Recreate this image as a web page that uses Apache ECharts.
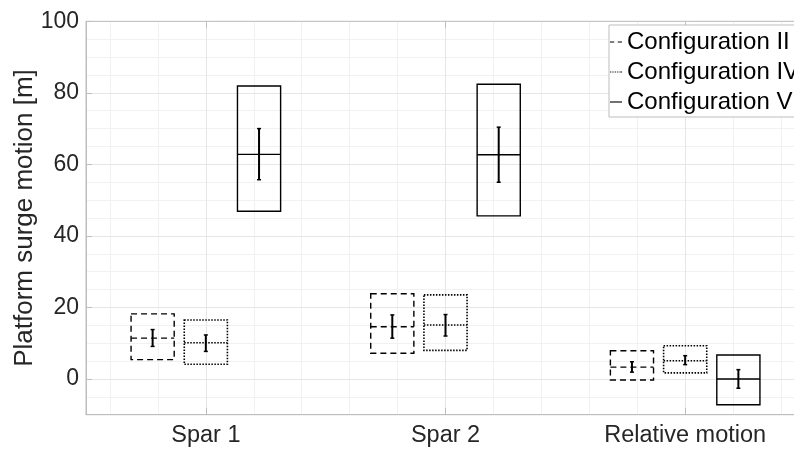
<!DOCTYPE html>
<html>
<head>
<meta charset="utf-8">
<script src="https://cdn.jsdelivr.net/npm/echarts@6/dist/echarts.min.js"></script>
<style>
html, body { margin: 0; padding: 0; background: #fff; }
#chart { width: 794px; height: 449px; }
</style>
</head>
<body>
<div id="chart"></div>
<script>
// ---- Data ----
const categories = ['Spar 1', 'Spar 2', 'Relative motion'];
const configNames = ['Configuration II', 'Configuration IV', 'Configuration V'];

// Configuration II (dashed)
const boxHighII = [18.2, 23.8, 7.9];
const boxLowII  = [5.4, 7.2, -0.3];
const meanII    = [11.4, 14.6, 3.3];
const errHighII = [13.8, 17.9, 4.8];
const errLowII  = [9.1, 11.4, 1.9];

// Configuration IV (dotted)
const boxHighIV = [16.5, 23.5, 9.3];
const boxLowIV  = [4.1, 8.0, 1.7];
const meanIV    = [10.1, 15.1, 5.1];
const errHighIV = [12.3, 18.0, 6.5];
const errLowIV  = [7.7, 12.0, 4.0];

// Configuration V (solid)
const boxHighV = [81.9, 82.4, 6.7];
const boxLowV  = [46.9, 45.6, -7.2];
const meanV    = [62.8, 62.7, 0.0];
const errHighV = [70.0, 70.4, 2.6];
const errLowV  = [55.7, 55.0, -2.6];

const yTickValues = [0, 20, 40, 60, 80, 100];

// ---- Styling ----
const FONT = "'Liberation Sans', Arial, Helvetica, sans-serif";
const AXIS_COLOR = '#bdbdbd';
const TEXT_COLOR = '#262626';
const MAJOR_GRID = '#e6e6e6';
const MINOR_GRID = '#f1f1f1';

const plotLeft = 86, plotTop = 21.3, plotWidth = 719, plotHeight = 393.4;
const yMin = -10, yMax = 100;
const pxPerY = plotHeight / (yMax - yMin);
const bandW = plotWidth / categories.length;

const boxFrac = 0.18;     // box width as fraction of category band
const offFrac = 0.222;    // offset of configurations within band

function buildData(hi, lo, mean, eh, el) {
  return categories.map((c, i) => [i, hi[i], lo[i], mean[i], eh[i], el[i]]);
}

function makeRender(offset, dash, lw) {
  return function (params, api) {
    const ci = api.value(0);
    const band = api.size([1, 0])[0];
    const pm = api.coord([ci, api.value(3)]);
    const cx = pm[0] + offset * band;
    const hw = boxFrac * band / 2;
    const yTop = api.coord([ci, api.value(1)])[1];
    const yBot = api.coord([ci, api.value(2)])[1];
    const yMean = pm[1];
    const yEt = api.coord([ci, api.value(4)])[1];
    const yEb = api.coord([ci, api.value(5)])[1];
    const boxStyle = { fill: 'none', stroke: '#000', lineWidth: lw, lineDash: dash };
    const errStyle = { stroke: '#000', lineWidth: 2 };
    const capStyle = { stroke: '#000', lineWidth: 1.5 };
    return {
      type: 'group',
      children: [
        { type: 'rect', shape: { x: cx - hw, y: yTop, width: 2 * hw, height: yBot - yTop }, style: boxStyle },
        { type: 'line', shape: { x1: cx - hw, y1: yMean, x2: cx + hw, y2: yMean }, style: { stroke: '#000', lineWidth: lw, lineDash: dash } },
        { type: 'line', shape: { x1: cx, y1: yEt, x2: cx, y2: yEb }, style: errStyle },
        { type: 'line', shape: { x1: cx - 2, y1: yEt, x2: cx + 2, y2: yEt }, style: capStyle },
        { type: 'line', shape: { x1: cx - 2, y1: yEb, x2: cx + 2, y2: yEb }, style: capStyle }
      ]
    };
  };
}

const seriesDefs = [
  { name: configNames[0], offset: -offFrac, dash: [6, 4], lw: 1.4, data: buildData(boxHighII, boxLowII, meanII, errHighII, errLowII) },
  { name: configNames[1], offset: 0, dash: [1.5, 1.5], lw: 1.6, data: buildData(boxHighIV, boxLowIV, meanIV, errHighIV, errLowIV) },
  { name: configNames[2], offset: offFrac, dash: null, lw: 1.4, data: buildData(boxHighV, boxLowV, meanV, errHighV, errLowV) }
];

const legendIcons = [
  'path://M0,0h5v1.3h-5zM9,0h5v1.3h-5z',
  'path://M0,0h1v1.1h-1zM2,0h1v1.1h-1zM4,0h1v1.1h-1zM6,0h1v1.1h-1zM8,0h1v1.1h-1zM10,0h1v1.1h-1zM12,0h1v1.1h-1zM13,0h1v1.1h-1z',
  'path://M0,0h14v1.3h-14z'
];

const chart = echarts.init(document.getElementById('chart'), null, { renderer: 'canvas' });

const gridBase = { containLabel: false, outerBoundsMode: 'none' };
const hiddenAxis = {
  show: false,
  axisLine: { show: false, onZero: false },
  axisTick: { show: false },
  axisLabel: { show: false },
  splitLine: { show: false }
};

const option = {
  animation: false,
  backgroundColor: '#fff',
  textStyle: { fontFamily: FONT },
  grid: [
    Object.assign({ left: plotLeft, top: plotTop, width: plotWidth, height: plotHeight, show: true, borderColor: AXIS_COLOR, borderWidth: 1, backgroundColor: 'transparent', z: 3 }, gridBase),
    Object.assign({ left: plotLeft + 0.1 * bandW, top: plotTop, width: 2.8 * bandW, height: plotHeight }, gridBase),
    Object.assign({ left: plotLeft, top: plotTop + 5 * pxPerY, width: plotWidth, height: 100 * pxPerY }, gridBase),
    Object.assign({ left: plotLeft + 0.5 * bandW, top: plotTop, width: 2 * bandW, height: plotHeight }, gridBase),
    Object.assign({ left: plotLeft, top: plotTop, width: plotWidth, height: 100 * pxPerY }, gridBase)
  ],
  xAxis: [
    {
      gridIndex: 0, type: 'category', data: categories, position: 'bottom', z: 3,
      boundaryGap: true,
      axisLine: { show: true, onZero: false, lineStyle: { color: AXIS_COLOR, width: 1 } },
      axisTick: { show: true, inside: true, alignWithLabel: true, length: 7, lineStyle: { color: AXIS_COLOR } },
      axisLabel: { show: true, fontSize: 23.5, color: TEXT_COLOR, fontFamily: FONT, margin: 9 },
      splitLine: { show: false }
    },
    {
      gridIndex: 0, type: 'category', data: categories, position: 'top', z: 3,
      boundaryGap: true,
      axisLine: { show: false, onZero: false },
      axisTick: { show: true, inside: true, alignWithLabel: true, length: 7, lineStyle: { color: AXIS_COLOR } },
      axisLabel: { show: false },
      splitLine: { show: false }
    },
    {
      gridIndex: 1, type: 'value', min: 0.6, max: 3.4, interval: 0.2, z: 0,
      axisLine: { show: false, onZero: false }, axisTick: { show: false }, axisLabel: { show: false },
      splitLine: { show: true, lineStyle: { color: MINOR_GRID, width: 1 } }
    },
    Object.assign({ gridIndex: 2, type: 'value', min: 0, max: 1 }, hiddenAxis),
    {
      gridIndex: 3, type: 'value', min: 1, max: 3, interval: 1, z: 1,
      axisLine: { show: false, onZero: false }, axisTick: { show: false }, axisLabel: { show: false },
      splitLine: { show: true, lineStyle: { color: MAJOR_GRID, width: 1 } }
    },
    Object.assign({ gridIndex: 4, type: 'value', min: 0, max: 1 }, hiddenAxis)
  ],
  yAxis: [
    {
      gridIndex: 0, type: 'value', min: yMin, max: yMax, splitNumber: 5, z: 3,
      name: 'Platform surge motion [m]', nameLocation: 'middle', nameGap: 48, nameMoveOverlap: false,
      nameTextStyle: { fontSize: 26, color: TEXT_COLOR, fontFamily: FONT },
      axisLine: { show: true, onZero: false, lineStyle: { color: AXIS_COLOR, width: 1 } },
      axisTick: { show: true, inside: true, length: 6, lineStyle: { color: AXIS_COLOR } },
      axisLabel: {
        show: true, fontSize: 23, color: TEXT_COLOR, fontFamily: FONT, margin: 7,
        formatter: function (v) { return yTickValues.indexOf(Math.round(v)) >= 0 && Math.abs(v - Math.round(v)) < 1e-9 ? String(Math.round(v)) : ''; }
      },
      splitLine: { show: false }
    },
    Object.assign({ gridIndex: 1, type: 'value', min: 0, max: 1 }, hiddenAxis),
    {
      gridIndex: 2, type: 'value', min: -5, max: 95, interval: 5, z: 0,
      axisLine: { show: false, onZero: false }, axisTick: { show: false }, axisLabel: { show: false },
      splitLine: { show: true, lineStyle: { color: MINOR_GRID, width: 1 } }
    },
    Object.assign({ gridIndex: 3, type: 'value', min: 0, max: 1 }, hiddenAxis),
    {
      gridIndex: 4, type: 'value', min: 0, max: 100, interval: 20, z: 1,
      axisLine: { show: false, onZero: false }, axisTick: { show: false }, axisLabel: { show: false },
      splitLine: { show: true, lineStyle: { color: MAJOR_GRID, width: 1 } }
    }
  ],
  legend: {
    show: true,
    orient: 'vertical',
    left: 609, top: 25,
    padding: [5, 0, 3, 1],
    itemGap: 6,
    itemWidth: 12, itemHeight: 14,
    backgroundColor: '#fff',
    borderColor: '#bdbdbd', borderWidth: 1,
    textStyle: { fontSize: 24, color: '#000', fontFamily: FONT },
    selectedMode: false,
    data: configNames.map((n, i) => ({ name: n, icon: legendIcons[i], itemStyle: { color: '#000' } }))
  },
  series: seriesDefs.map(d => ({
    type: 'custom',
    name: d.name,
    xAxisIndex: 0, yAxisIndex: 0,
    itemStyle: { color: '#000' },
    renderItem: makeRender(d.offset, d.dash, d.lw),
    encode: { x: 0, y: [1, 2, 3, 4, 5] },
    data: d.data,
    z: 5,
    clip: false
  }))
};

chart.setOption(option);
</script>
</body>
</html>
